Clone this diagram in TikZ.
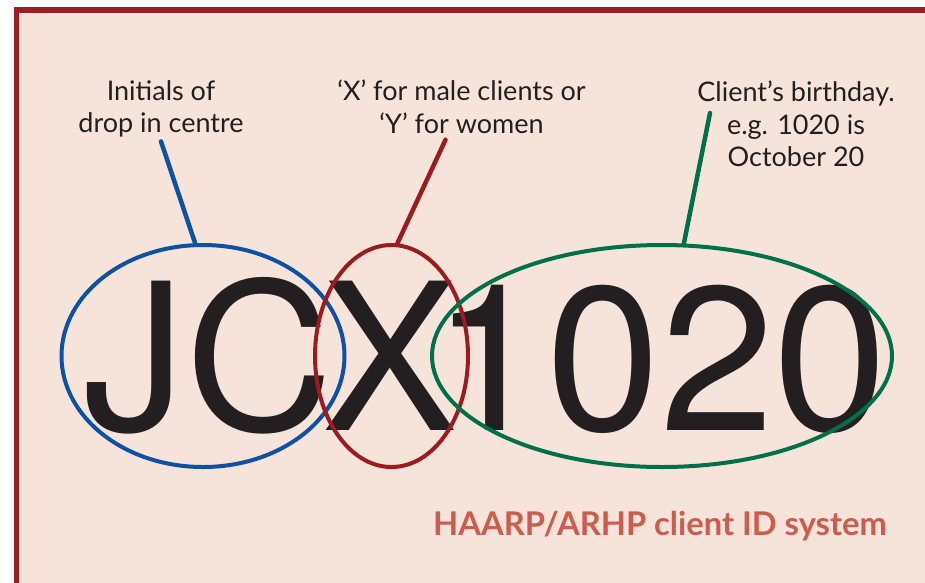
\documentclass[tikz,border=0pt]{standalone}
\usepackage{fontspec}
\setmainfont{Lato}
\newfontfamily\bigfont{TeX Gyre Heros}
\usetikzlibrary{shapes.geometric}
\definecolor{paper}{HTML}{F6E4DB}
\definecolor{frame}{HTML}{9E1C24}
\definecolor{ink}{HTML}{231F20}
\definecolor{initblue}{HTML}{0E50A3}
\definecolor{sexred}{HTML}{9B1B20}
\definecolor{dategreen}{HTML}{00704A}
\definecolor{caption}{HTML}{CD5C4E}

\begin{document}
\begin{tikzpicture}[
  x=1pt, y=-1pt,
  note/.style={align=center, text=ink, inner sep=0pt,
    font=\fontsize{27}{32.5}\selectfont},
  idtext/.style={text=ink, inner sep=0pt,
    font=\bigfont\fontsize{205}{205}\selectfont},
  ring/.style={draw=#1, ellipse, line width=4pt, inner sep=0pt},
  pointer/.style={draw=#1, line width=4.5pt, line cap=round}
]
\useasboundingbox (0,0) rectangle (925,582);

% paper and frame (left and top edges only)
\fill[paper] (16,10) rectangle (940,600);
\draw[frame, line width=5.5pt] (16.5,600) -- (16.5,10) -- (940,10);

% the client ID itself
\node[idtext, anchor=base west] (jc) at (83,430) {JC};
\node[idtext, anchor=base] (x) at (390,430) {X};
\node[idtext, anchor=base] (num) at (660,430) {1020};

% rings round each part
\node[ring=initblue, minimum width=283pt, minimum height=222pt] (initring) at (203,356) {};
\node[ring=sexred, minimum width=153pt, minimum height=222pt] (sexring) at (391.5,356) {};
\node[ring=dategreen, minimum width=460pt, minimum height=222pt] (datering) at (662,356) {};

% explanations
\node[note, anchor=north] (initials) at (161,80) {Initials of\\drop in centre};
\node[note, anchor=north] (gender) at (461.5,80) {‘X’ for male clients or\\‘Y’ for women};
\node[note, anchor=north] (birthday) at (796,81) {Client’s birthday.\\e.g. 1020 is\\October 20};

\draw[pointer=initblue] ([yshift=-4pt]initials.south) -- (initring.94);
\draw[pointer=sexred] ([xshift=-16pt,yshift=-6pt]gender.south) -- (sexring.87);
\draw[pointer=dategreen] ([xshift=-86pt,yshift=-32pt]birthday.north) -- (datering.79);

\node[text=caption, font=\bfseries\fontsize{32.7}{36}\selectfont, anchor=base] (title) at (660,535) {HAARP/ARHP client ID system};
\end{tikzpicture}
\end{document}
